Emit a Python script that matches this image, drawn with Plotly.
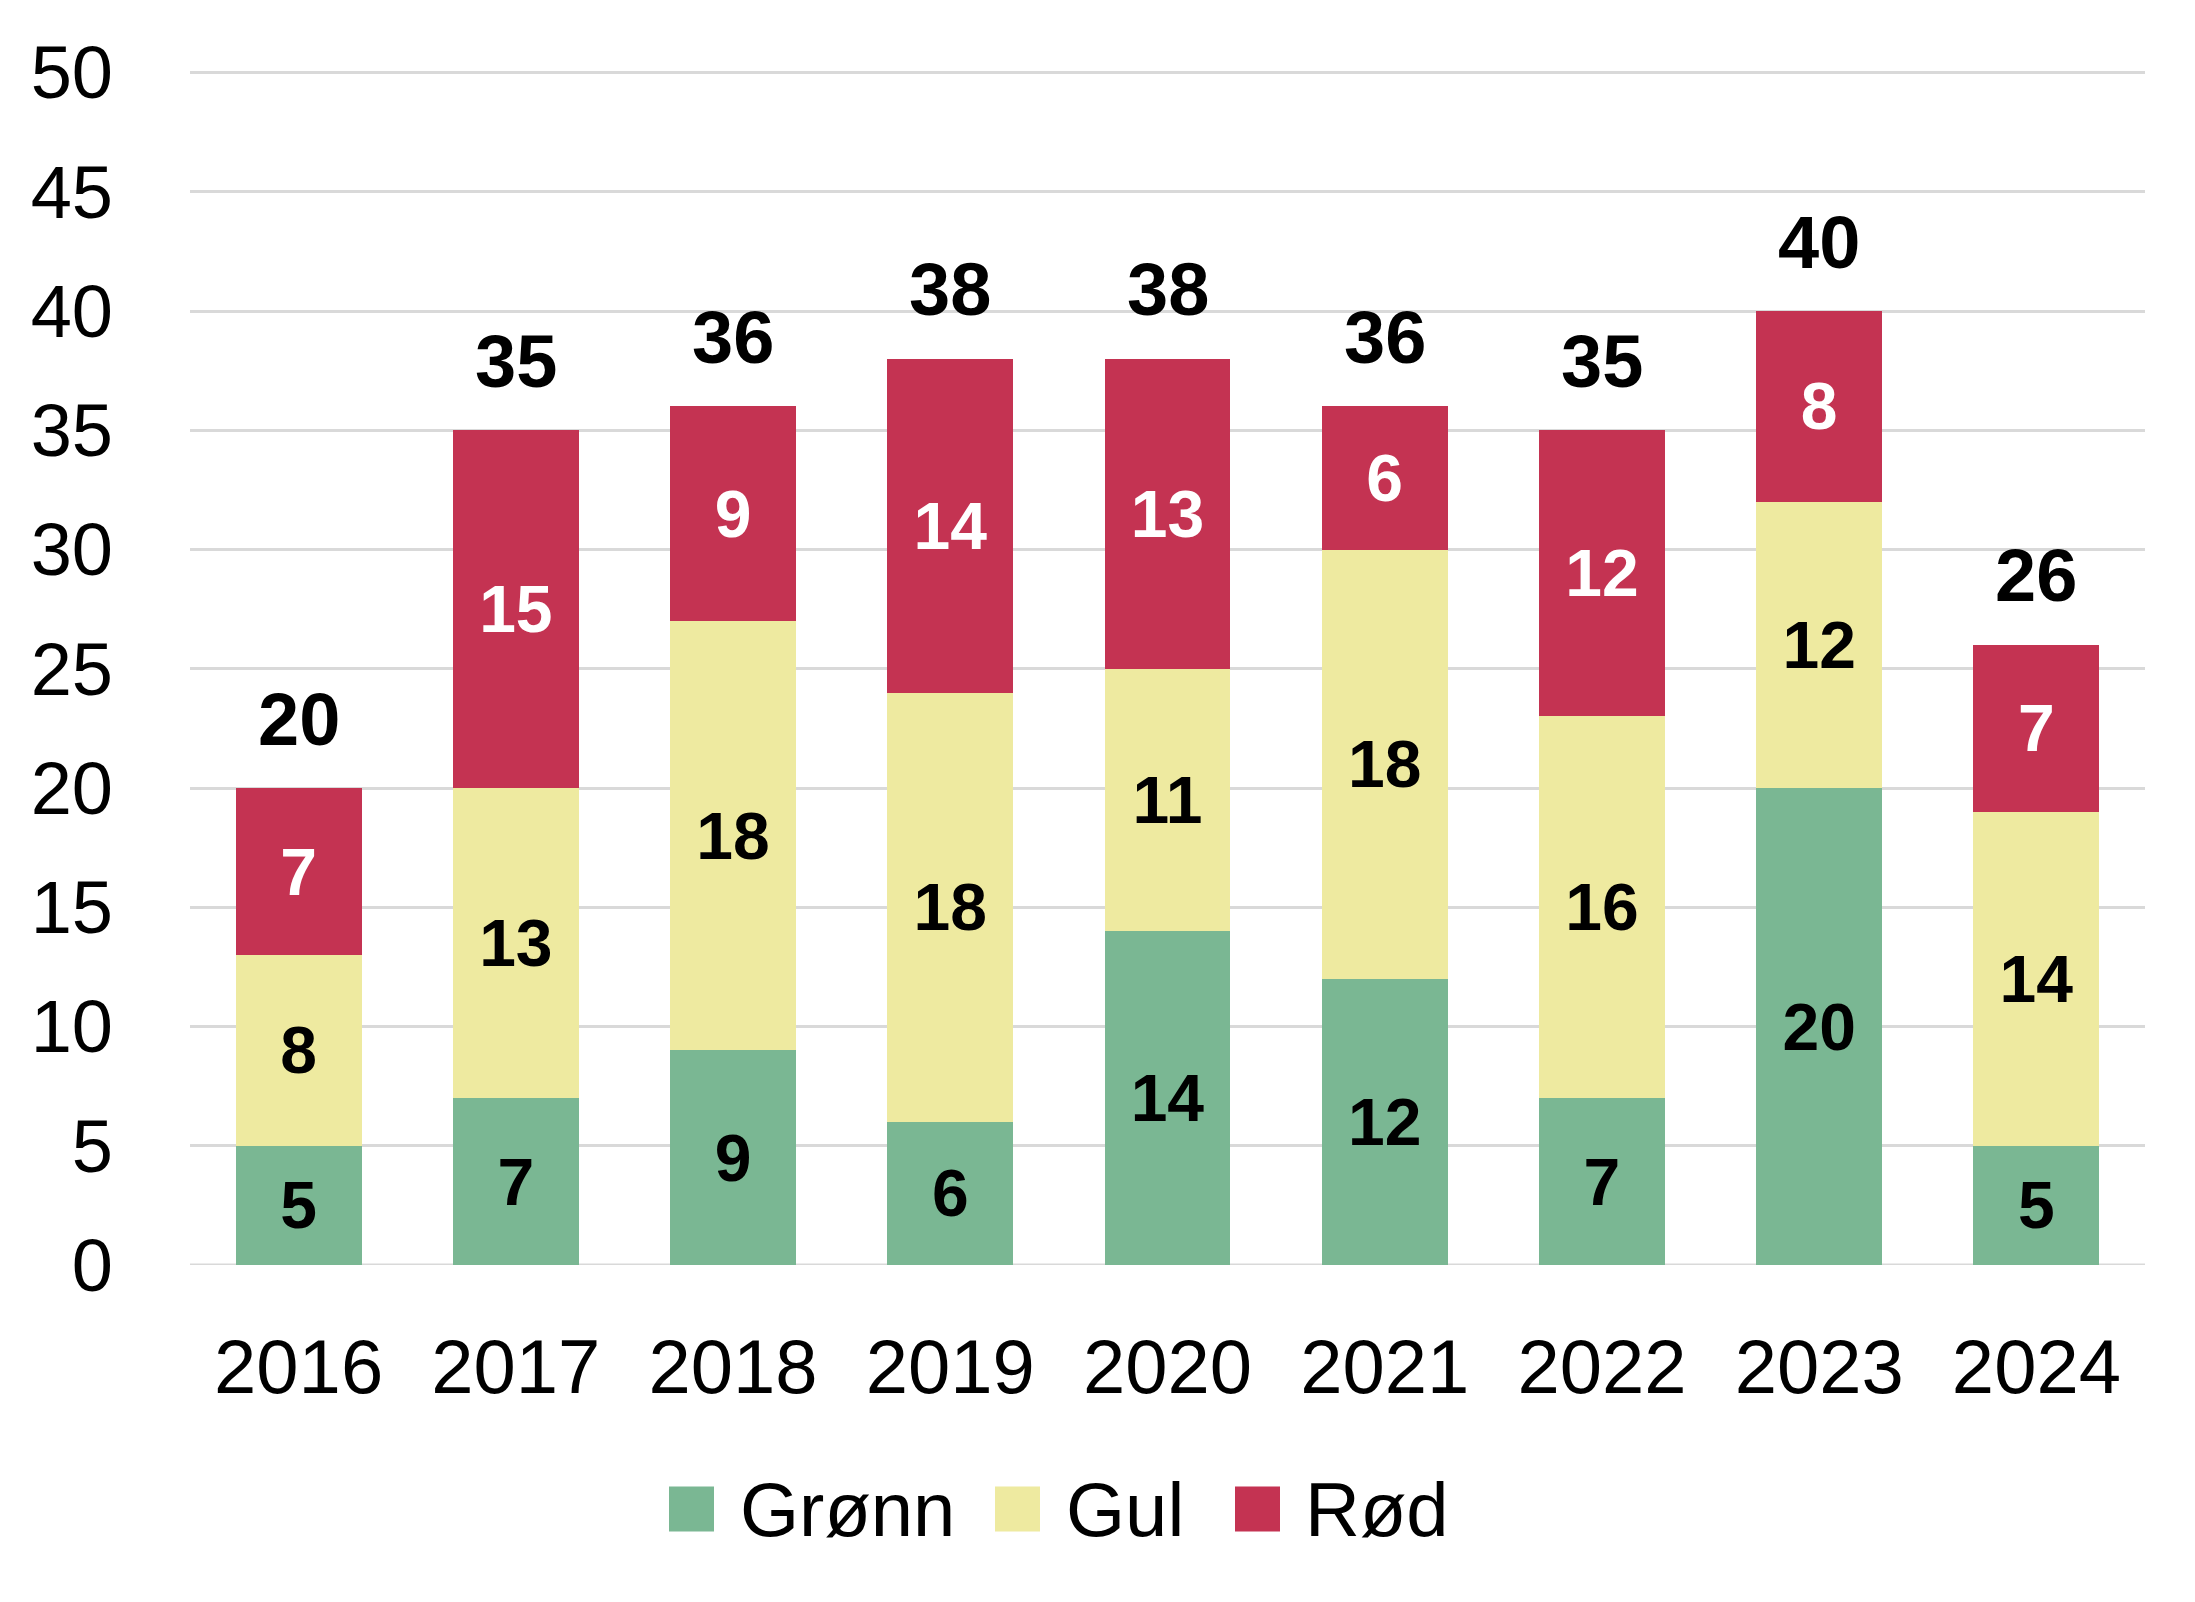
import plotly.graph_objects as go

years = ["2016", "2017", "2018", "2019", "2020", "2021", "2022", "2023", "2024"]
gronn = [5, 7, 9, 6, 14, 12, 7, 20, 5]
gul = [8, 13, 18, 18, 11, 18, 16, 12, 14]
rod = [7, 15, 9, 14, 13, 6, 12, 8, 7]
totals = [g + y + r for g, y, r in zip(gronn, gul, rod)]
series_names = ["Grønn", "Gul", "Rød"]
colors = ["#7AB793", "#EEEAA0", "#C43352"]
label_colors = ["black", "black", "white"]

FONT = "Liberation Sans Narrow, Arial Narrow, Liberation Sans, Arial, sans-serif"

fig = go.Figure()
for name, vals, col, lc in zip(series_names, [gronn, gul, rod], colors, label_colors):
    fig.add_trace(go.Bar(
        x=years, y=vals, name=name, marker=dict(color=col, line=dict(width=0)),
        text=[str(v) for v in vals], textposition="inside", insidetextanchor="middle",
        textangle=0, constraintext="none",
        textfont=dict(family=FONT, size=66, color=lc, weight="bold"),
        showlegend=False,
    ))

# total labels: category index positions on the category axis
for i, t in enumerate(totals):
    fig.add_annotation(x=i, y=t, xref="x", yref="y", text=str(t), showarrow=False,
                       yanchor="middle", yshift=69,
                       font=dict(family=FONT, size=74, color="black", weight="bold"))

# page offset (body margin)
OFF = 8
W, H = 2195, 1602
ml, mt = 190 - OFF, 69 - OFF
pw = 1955
mr = W - ml - pw
mb = H - (1265 - OFF)
ph = H - mt - mb
def px(x):
    return (x - OFF - ml) / pw
def py(y):
    return (H - mb - (y - OFF)) / ph
leg = [(669, 738), (995, 1064), (1235, 1303)]
cy = 1509
for (sx, tx), name, col in zip(leg, series_names, colors):
    fig.add_shape(type="rect", xref="paper", yref="paper", x0=px(sx), x1=px(sx + 45),
                  y0=py(cy + 22.5), y1=py(cy - 22.5), fillcolor=col, line=dict(width=0))
    fig.add_annotation(xref="paper", yref="paper", x=px(tx), y=py(cy), text=name, showarrow=False,
                       xanchor="left", yanchor="middle", font=dict(family=FONT, size=76, color="black"))

fig.update_layout(
    width=W, height=H, barmode="stack", bargap=0.42,
    margin=dict(l=ml, r=mr, t=mt, b=mb),
    paper_bgcolor="white", plot_bgcolor="white",
    font=dict(family=FONT, color="black"),
    showlegend=False,
)
fig.update_yaxes(range=[0, 50.15], dtick=5, tick0=0, showgrid=True, gridcolor="#D9D9D9", gridwidth=3,
                 zeroline=False, showline=False, ticks="", ticklabelstandoff=76,
                 tickfont=dict(family=FONT, size=74, color="black"))
fig.update_xaxes(type="category", range=[-0.5, len(years) - 0.5], showgrid=False, showline=False,
                 ticks="", ticklabelstandoff=51,
                 tickfont=dict(family=FONT, size=76, color="black"))
fig.add_shape(type="line", xref="paper", yref="y", x0=0, x1=1, y0=0, y1=0,
              line=dict(color="#D9D9D9", width=3), layer="below")

fig.write_html("out.html")
